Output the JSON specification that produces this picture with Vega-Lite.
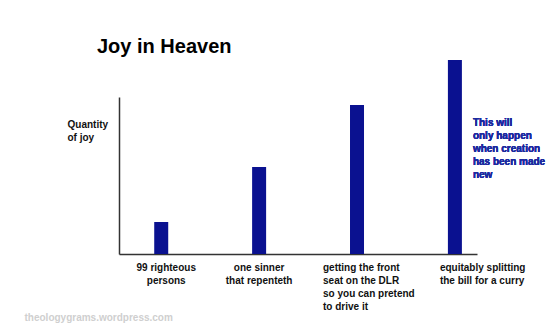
{
  "$schema": "https://vega.github.io/schema/vega-lite/v6.json",
  "width": 358,
  "height": 157,
  "autosize": "none",
  "padding": {"left": 119, "top": 97, "right": 83, "bottom": 82},
  "background": "white",
  "config": {
    "view": {"stroke": null},
    "font": "Liberation Sans",
    "text": {"font": "Liberation Sans"}
  },
  "title": {
    "text": "Joy in Heaven",
    "anchor": "start",
    "frame": "group",
    "dx": -22,
    "offset": -13,
    "baseline": "alphabetic",
    "font": "Liberation Sans",
    "fontSize": 20,
    "fontWeight": "bold",
    "color": "#000000"
  },
  "data": {
    "values": [
      {"category": "99 righteous\npersons", "joy": 20.4},
      {"category": "one sinner\nthat repenteth", "joy": 55.4},
      {"category": "getting the front\nseat on the DLR\nso you can pretend\nto drive it", "joy": 94.9},
      {"category": "equitably splitting\nthe bill for a curry", "joy": 123.6}
    ]
  },
  "layer": [
    {
      "mark": {"type": "bar", "color": "#0a1190"},
      "encoding": {
        "x": {
          "field": "category",
          "type": "nominal",
          "sort": null,
          "scale": {"paddingInner": 0.857, "paddingOuter": 0.257, "align": 0.7},
          "axis": {
            "title": "theologygrams.wordpress.com",
            "titleX": -95,
            "titleY": 66,
            "titleAlign": "left",
            "titleAnchor": "start",
            "titleBaseline": "alphabetic",
            "titleColor": "#cfcfcf",
            "titleFont": "Liberation Sans",
            "titleFontSize": 10,
            "titleFontWeight": "bold",
            "domainColor": "#333333",
            "domainWidth": 1.5,
            "ticks": false,
            "grid": false,
            "labelAngle": 0,
            "labelExpr": "split(datum.label, '\\n')",
            "labelFont": "Liberation Sans",
            "labelFontSize": 10,
            "labelFontWeight": "bold",
            "labelColor": "#111111",
            "labelLineHeight": 13,
            "labelPadding": 16,
            "labelBaseline": "alphabetic",
            "labelLimit": 0,
            "labelAlign": {
              "condition": {"test": "indexof(datum.value, 'DLR') >= 0 || indexof(datum.value, 'curry') >= 0", "value": "left"},
              "value": "center"
            },
            "labelOffset": {
              "condition": [
                {"test": "indexof(datum.value, 'DLR') >= 0", "value": -34},
                {"test": "indexof(datum.value, 'curry') >= 0", "value": -15},
                {"test": "indexof(datum.value, 'righteous') >= 0", "value": 5}
              ],
              "value": 0
            }
          }
        },
        "y": {
          "field": "joy",
          "type": "quantitative",
          "scale": {"domain": [0, 100], "nice": false},
          "axis": {
            "title": ["Quantity", "of joy"],
            "titleAngle": 0,
            "titleAlign": "left",
            "titleBaseline": "alphabetic",
            "titleX": -52,
            "titleY": 30,
            "titleFont": "Liberation Sans",
            "titleFontSize": 10,
            "titleFontWeight": "bold",
            "titleColor": "#111111",
            "titleLineHeight": 13,
            "domainColor": "#333333",
            "domainWidth": 1.5,
            "ticks": false,
            "labels": false,
            "grid": false
          }
        }
      }
    },
    {
      "mark": {
        "type": "text",
        "text": ["This will", "only happen", "when creation", "has been made", "new"],
        "align": "left",
        "baseline": "alphabetic",
        "dx": 18,
        "lineHeight": 13,
        "font": "Liberation Sans",
        "fontSize": 10,
        "fontWeight": "bold",
        "color": "#1c2aa0"
      },
      "encoding": {
        "x": {"datum": "equitably splitting\nthe bill for a curry", "type": "nominal"},
        "y": {"datum": 81.5, "type": "quantitative"}
      }
    }
  ]
}
